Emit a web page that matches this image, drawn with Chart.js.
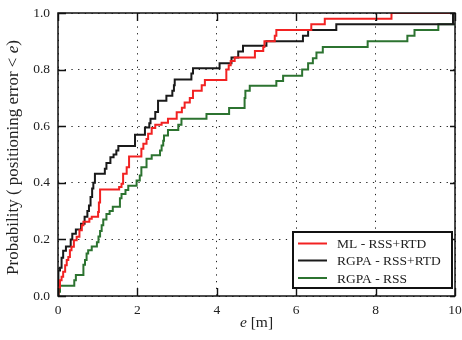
<!DOCTYPE html>
<html>
<head>
<meta charset="utf-8">
<title>CDF of positioning error</title>
<script src="https://cdn.jsdelivr.net/npm/chart.js@4.4.0/dist/chart.umd.min.js"></script>
<style>
  html, body { margin: 0; padding: 0; background: #fff; }
  #wrap { width: 462px; height: 340px; }
  canvas { display: block; }
</style>
</head>
<body>
<div id="wrap"><canvas id="cdfChart" width="462" height="340"></canvas></div>
<script>
// ====================================
// DATA - empirical CDF steps (error [m], probability after step)
// ====================================

const mlErr = [0, 0.01, 0.05, 0.09, 0.13, 0.18, 0.22, 0.26, 0.30, 0.34, 0.40, 0.47, 0.54, 0.60, 0.64, 0.79, 0.85,
  1.01, 1.03, 1.06, 1.54, 1.60, 1.64, 1.73, 1.79, 2.10, 2.15, 2.23, 2.27, 2.36, 2.45, 2.61, 2.77, 2.99, 3.12,
  3.19, 3.32, 3.40, 3.62, 3.70, 4.24, 4.30, 4.35, 4.45, 4.96, 5.17, 5.20, 5.46, 5.50, 6.38, 6.72, 8.40, 10];
const mlProb = [0, 0.03, 0.056, 0.068, 0.086, 0.109, 0.127, 0.138, 0.162, 0.174, 0.197, 0.209, 0.232, 0.25, 0.262, 0.273, 0.28,
  0.297, 0.33, 0.376, 0.385, 0.397, 0.432, 0.455, 0.493, 0.52, 0.538, 0.555, 0.573, 0.594, 0.605, 0.612, 0.626, 0.649, 0.665,
  0.684, 0.70, 0.725, 0.745, 0.763, 0.80, 0.815, 0.83, 0.843, 0.866, 0.88, 0.90, 0.92, 0.94, 0.96, 0.98, 1.0, 1.0];

const rgpaErr = [0, 0.01, 0.05, 0.09, 0.13, 0.20, 0.32, 0.36, 0.45, 0.58, 0.67, 0.74, 0.78, 0.82, 0.86, 0.89, 0.93,
  1.18, 1.22, 1.32, 1.40, 1.47, 1.52, 1.94, 2.19, 2.30, 2.33, 2.45, 2.52, 2.73, 2.88, 2.92, 2.94, 3.36, 3.40,
  4.07, 4.37, 4.54, 4.66, 5.25, 6.17, 6.30, 7.01, 9.95, 10];
const rgpaProb = [0, 0.09, 0.10, 0.135, 0.16, 0.175, 0.20, 0.22, 0.235, 0.255, 0.28, 0.30, 0.32, 0.35, 0.38, 0.40, 0.432,
  0.45, 0.47, 0.49, 0.50, 0.514, 0.53, 0.57, 0.595, 0.61, 0.626, 0.65, 0.69, 0.708, 0.725, 0.745, 0.765, 0.786, 0.805,
  0.822, 0.843, 0.864, 0.884, 0.90, 0.92, 0.94, 0.96, 1.0, 1.0];

const rssErr = [0, 0.01, 0.05, 0.41, 0.45, 0.64, 0.68, 0.72, 0.76, 0.85, 0.98, 1.02, 1.06, 1.10, 1.14, 1.22, 1.30,
  1.38, 1.56, 1.60, 1.70, 1.77, 1.98, 2.06, 2.10, 2.23, 2.36, 2.57, 2.61, 2.65, 2.67, 2.77, 3.03, 3.11, 3.74,
  4.31, 4.70, 4.72, 4.83, 5.50, 5.67, 6.15, 6.30, 6.42, 6.51, 6.67, 7.80, 8.80, 8.98, 9.58, 10];
const rssProb = [0, 0.015, 0.036, 0.056, 0.074, 0.11, 0.127, 0.15, 0.162, 0.175, 0.19, 0.21, 0.23, 0.25, 0.27, 0.29, 0.30,
  0.315, 0.345, 0.36, 0.375, 0.39, 0.408, 0.426, 0.455, 0.485, 0.497, 0.514, 0.532, 0.549, 0.567, 0.587, 0.605, 0.626, 0.643,
  0.664, 0.70, 0.725, 0.743, 0.76, 0.778, 0.80, 0.822, 0.84, 0.86, 0.88, 0.90, 0.92, 0.94, 0.96, 0.96];

const seriesLabels = ['ML - RSS+RTD', 'RGPA - RSS+RTD', 'RGPA - RSS'];
const seriesColors = ['#f22222', '#1a1a1a', '#2c7330'];
const xTickLabels = ['0', '2', '4', '6', '8', '10'];
const yTickLabels = ['0.0', '0.2', '0.4', '0.6', '0.8', '1.0'];

const SERIF = '"Liberation Serif", "DejaVu Serif", serif';

/**
 * Zip x / y arrays into point objects
 */
function toPoints(xs, ys) {
  return xs.map((x, i) => ({ x: x, y: ys[i] }));
}

/**
 * Draw text pieces with mixed normal / italic styles, centered on 0
 */
function drawMixed(ctx, parts, size) {
  let total = 0;
  parts.forEach(p => {
    ctx.font = (p.italic ? 'italic ' : '') + size + 'px ' + SERIF;
    p.w = ctx.measureText(p.text).width;
    total += p.w;
  });
  let x = -total / 2;
  parts.forEach(p => {
    ctx.font = (p.italic ? 'italic ' : '') + size + 'px ' + SERIF;
    ctx.fillText(p.text, x, 0);
    x += p.w;
  });
}

/**
 * Fix axis box sizes and drop label overhang padding
 */
function fixBox(size, isX) {
  return function(s) {
    if (isX) s.height = size; else s.width = size;
    s.paddingLeft = 0;
    s.paddingRight = 0;
    s.paddingTop = 0;
    s.paddingBottom = 0;
  };
}

// Frame, inward ticks, axis titles, legend box
const decorPlugin = {
  id: 'decor',
  afterDatasetsDraw(chart) {
    const ctx = chart.ctx;
    const a = chart.chartArea;
    const xs = chart.scales.x;
    const ys = chart.scales.y;

    ctx.save();
    ctx.strokeStyle = '#111';
    ctx.lineWidth = 1.4;

    // inward tick marks
    ctx.beginPath();
    xs.ticks.forEach(t => {
      const px = Math.round(xs.getPixelForValue(t.value)) + 0.5;
      ctx.moveTo(px, a.bottom); ctx.lineTo(px, a.bottom - 8);
      ctx.moveTo(px, a.top); ctx.lineTo(px, a.top + 8);
    });
    ys.ticks.forEach(t => {
      const py = Math.round(ys.getPixelForValue(t.value)) + 0.5;
      ctx.moveTo(a.left, py); ctx.lineTo(a.left + 8, py);
      ctx.moveTo(a.right, py); ctx.lineTo(a.right - 5, py);
    });
    ctx.stroke();

    // frame
    ctx.lineWidth = 1.5;
    ctx.strokeRect(a.left, a.top, a.right - a.left, a.bottom - a.top);

    // legend
    const boxW = 159, boxH = 56;
    const bx = a.right - 3 - boxW;
    const by = a.bottom - 8 - boxH;
    ctx.fillStyle = '#fff';
    ctx.fillRect(bx, by, boxW, boxH);
    ctx.lineWidth = 2;
    ctx.strokeStyle = '#111';
    ctx.strokeRect(bx, by, boxW, boxH);

    ctx.font = '13.5px ' + SERIF;
    ctx.textBaseline = 'middle';
    ctx.textAlign = 'left';
    const rowY = [11.5, 28.5, 46];
    chart.data.datasets.forEach((ds, i) => {
      const y = by + rowY[i];
      ctx.strokeStyle = ds.borderColor;
      ctx.lineWidth = 2;
      ctx.beginPath();
      ctx.moveTo(bx + 5, y);
      ctx.lineTo(bx + 34, y);
      ctx.stroke();
      ctx.fillStyle = '#222';
      ctx.fillText(ds.label, bx + 44, y + 1);
    });
    ctx.restore();
  },
  afterDraw(chart) {
    const ctx = chart.ctx;
    const a = chart.chartArea;
    ctx.save();
    ctx.fillStyle = '#222';
    ctx.textBaseline = 'middle';
    ctx.textAlign = 'left';

    // x axis title
    ctx.translate((a.left + a.right) / 2, 323);
    drawMixed(ctx, [{ text: 'e', italic: true }, { text: ' [m]' }], 15.5);
    ctx.restore();

    // y axis title
    ctx.save();
    ctx.fillStyle = '#222';
    ctx.textBaseline = 'middle';
    ctx.textAlign = 'left';
    ctx.translate(14, (a.top + a.bottom) / 2 + 3);
    ctx.rotate(-Math.PI / 2);
    drawMixed(ctx, [
      { text: 'Probability ( positioning error < ' },
      { text: 'e', italic: true },
      { text: ')' }
    ], 17);
    ctx.restore();
  }
};

function makeDataset(label, color, xs, ys) {
  return {
    label: label,
    data: toPoints(xs, ys),
    borderColor: color,
    backgroundColor: color,
    borderWidth: 2,
    stepped: true,
    pointRadius: 0,
    fill: false
  };
}

const ctx = document.getElementById('cdfChart').getContext('2d');
const chart = new Chart(ctx, {
  type: 'line',
  data: {
    datasets: [
      makeDataset(seriesLabels[0], seriesColors[0], mlErr, mlProb),
      makeDataset(seriesLabels[1], seriesColors[1], rgpaErr, rgpaProb),
      makeDataset(seriesLabels[2], seriesColors[2], rssErr, rssProb)
    ]
  },
  options: {
    responsive: false,
    animation: false,
    devicePixelRatio: 1,
    layout: { padding: { top: 13, right: 7, left: 0, bottom: 0 } },
    plugins: {
      legend: { display: false },
      tooltip: { enabled: false }
    },
    scales: {
      x: {
        type: 'linear',
        min: 0,
        max: 10,
        afterFit: fixBox(44, true),
        ticks: {
          stepSize: 2,
          padding: 6,
          color: '#222',
          font: { family: SERIF, size: 13.5 },
          callback: (v, i) => xTickLabels[i]
        },
        grid: { color: '#222', lineWidth: 1, drawTicks: false },
        border: { display: false, dash: [1.3, 5.4] }
      },
      y: {
        min: 0,
        max: 1,
        afterFit: fixBox(58, false),
        ticks: {
          stepSize: 0.2,
          padding: 8,
          color: '#222',
          font: { family: SERIF, size: 13.5 },
          callback: (v, i) => yTickLabels[i]
        },
        grid: { color: '#222', lineWidth: 1, drawTicks: false },
        border: { display: false, dash: [1.3, 5.4] }
      }
    }
  },
  plugins: [decorPlugin]
});
</script>
</body>
</html>
